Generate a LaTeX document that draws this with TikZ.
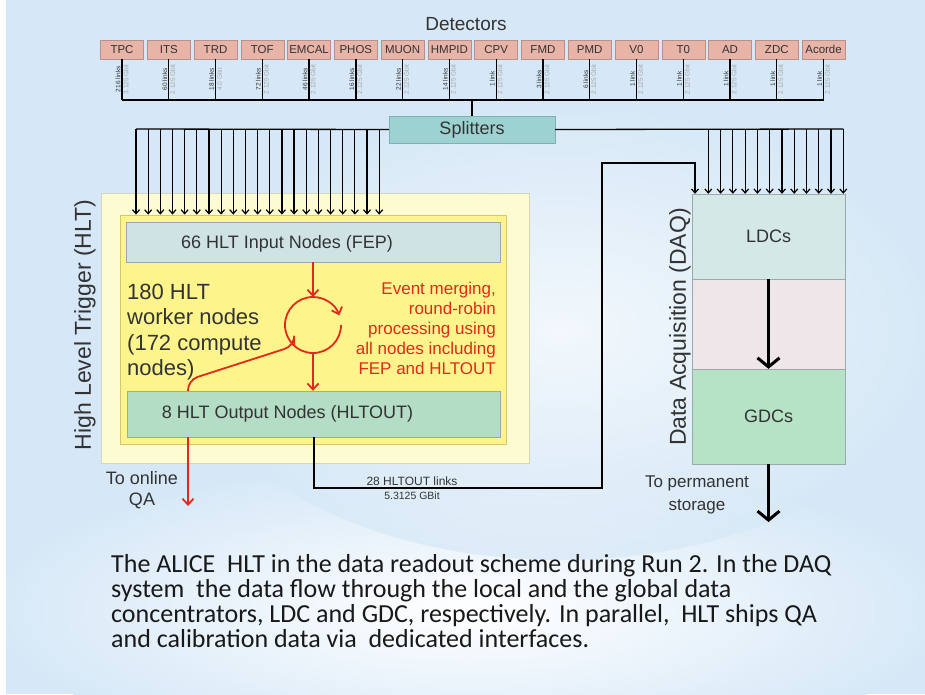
\documentclass[tikz,border=0pt]{standalone}
\usepackage{fontspec}
\setmainfont{Liberation Sans}
\newfontfamily\capfont{Carlito}
\usetikzlibrary{arrows.meta,calc}
\definecolor{bgblue}{HTML}{D6E8F7}
\definecolor{detfill}{HTML}{E8B4A8}
\definecolor{detdraw}{HTML}{B8908A}
\definecolor{splfill}{HTML}{9CD2D1}
\definecolor{spldraw}{HTML}{7FB0B0}
\definecolor{outerfill}{HTML}{FDFBD2}
\definecolor{outerdraw}{HTML}{D8D4B8}
\definecolor{innerfill}{HTML}{FDF58C}
\definecolor{innerdraw}{HTML}{D2C870}
\definecolor{fepfill}{HTML}{CFE3E5}
\definecolor{houtfill}{HTML}{B4DDC6}
\definecolor{ldcfill}{HTML}{D3E8E7}
\definecolor{midfill}{HTML}{EEE6E9}
\definecolor{gdcfill}{HTML}{B6E2C6}
\definecolor{boxdraw}{HTML}{9AAAAA}
\definecolor{redc}{HTML}{E02A1C}
\definecolor{txtc}{HTML}{333333}
\tikzset{
  det/.style={draw=detdraw,fill=detfill,minimum width=43pt,minimum height=19pt,inner sep=0pt,
    font=\fontsize{11.5}{12}\selectfont,text=txtc},
  linklab/.style={rotate=90,inner sep=0pt,font=\fontsize{6.5}{7}\selectfont},
  conn/.style={draw=black,line width=1.3pt},
  arr/.style={draw=black,line width=1.2pt,-{Straight Barb[length=4pt,width=7pt]}},
  redarr/.style={draw=redc,line width=1.8pt,-{Straight Barb[length=6pt,width=11pt]}},
  bigarr/.style={draw=black,line width=3pt,-{Straight Barb[length=9pt,width=22pt]}},
}
\begin{document}
\begin{tikzpicture}[x=1pt,y=-1pt]
\useasboundingbox (0,0) rectangle (925,694);
% background
\fill[bgblue] (0,0) rectangle (925,694);
\shade[inner color=white,outer color=bgblue] (470,610) ellipse[x radius=480,y radius=150];
\shade[inner color=white,outer color=bgblue,opacity=0.7] (560,330) ellipse[x radius=380,y radius=230];
\fill[white] (0,0) rectangle (6,694);

% detectors
\node[font=\fontsize{19}{20}\selectfont,text=txtc] (dettitle) at (466,24) {Detectors};
\coordinate (bus) at (0,100);
\foreach \nm/\la/\lb [count=\i] in {TPC/216 links/3.125 Gbit,ITS/60 links/2.125 Gbit,TRD/18 links/4.0 Gbit,
  TOF/72 links/2.125 Gbit,EMCAL/46 links/2.125 Gbit,PHOS/16 links/2.125 Gbit,MUON/22 links/2.125 Gbit,
  HMPID/14 links/2.125 Gbit,CPV/1 link/2.125 Gbit,FMD/3 links/2.125 Gbit,PMD/6 links/2.125 Gbit,
  V0/1 link/2.125 Gbit,T0/1 link/2.125 Gbit,AD/1 link/2.125 Gbit,ZDC/1 link/2.125 Gbit,Acorde/1 link/2.125 Gbit}{
  \node[det] (d\i) at ({122+46.77*(\i-1)},49.5) {\nm};
  \draw[conn] (d\i.south) -- (d\i.south |- bus);
  \node[linklab,text=black!80] (la\i) at ($(d\i.south)+(-4,20)$) {\la};
  \node[linklab,text=black!35] (lb\i) at ($(d\i.south)+(4,20)$) {\lb};
}
\draw[conn] (d1.south |- bus) -- (d16.south |- bus);

% splitters
\node[draw=spldraw,fill=splfill,minimum width=166pt,minimum height=27pt,inner sep=0pt,
  font=\fontsize{18}{20}\selectfont,text=txtc] (spl) at (472,129.5) {Splitters};
\draw[conn] (spl.north |- bus) -- (spl.north);

% HLT boxes
\node[draw=outerdraw,fill=outerfill,minimum width=428pt,minimum height=270pt,inner sep=0pt] (hlt) at (315,328) {};
\node[draw=innerdraw,fill=innerfill,line width=0.8pt,minimum width=386pt,minimum height=229pt,inner sep=0pt] (inr) at (313,329.5) {};
\node[draw=boxdraw,fill=fepfill,minimum width=374pt,minimum height=40pt,inner sep=0pt] (fep) at (313,242) {};
\node[font=\fontsize{18}{20}\selectfont,text=txtc] (feptxt) at (287,244) {66 HLT Input Nodes (FEP)};
\node[draw=boxdraw,fill=houtfill,minimum width=373pt,minimum height=46pt,inner sep=0pt] (hout) at (313.5,414) {};
\node[font=\fontsize{18}{20}\selectfont,text=txtc] (houttxt) at (287.5,414) {8 HLT Output Nodes (HLTOUT)};
\node[rotate=90,font=\fontsize{23}{25}\selectfont,text=txtc] (hltlab) at (85,325) {High Level Trigger (HLT)};

% left splitter branch
\coordinate (lbr) at (136,129);
\draw[conn] (spl.west) -- (lbr);
\foreach \k in {0,...,20}{
  \coordinate (t) at ($(lbr)+({12.16*\k},0)$);
  \draw[arr] (t) -- (t |- inr.north);
}

% DAQ boxes
\node[draw=boxdraw,fill=ldcfill,minimum width=153pt,minimum height=85pt,inner sep=0pt,
  font=\fontsize{18}{20}\selectfont,text=txtc] (ldc) at (768.5,236.5) {LDCs};
\node[draw=boxdraw,fill=midfill,minimum width=153pt,minimum height=90pt,inner sep=0pt] (mid) at (768.5,324) {};
\node[draw=boxdraw,fill=gdcfill,minimum width=153pt,minimum height=95pt,inner sep=0pt,
  font=\fontsize{18}{20}\selectfont,text=txtc] (gdc) at (768.5,416.5) {GDCs};
\node[rotate=90,font=\fontsize{23}{25}\selectfont,text=txtc] (daqlab) at (680,327) {Data Acquisition (DAQ)};
\draw[bigarr] (ldc.south) -- (gdc.north);
\coordinate (perm) at (768.5,522);
\draw[bigarr] (gdc.south) -- (perm);
\node[font=\fontsize{17}{23}\selectfont,align=center,text=txtc] (permtxt) at (697,494.5) {To permanent\\storage};

% right splitter branch
\coordinate (rbr) at (843.3,129);
\draw[conn] (spl.east) -- (rbr);
\foreach \k in {0,...,11}{
  \coordinate (t) at ($(rbr)+({-12.27*\k},0)$);
  \draw[arr] (t) -- (t |- ldc.north);
}

% HLTOUT to DAQ
\coordinate (hx) at (314,488);
\coordinate (c2) at (602,488);
\coordinate (c3) at (602,163);
\coordinate (c4) at (695,163);
\draw[arr] (hout.south -| hx) -- (hx) -- (c2) -- (c3) -- (c4) -- (c4 |- ldc.north);
\node[font=\fontsize{12}{13}\selectfont,text=txtc] (hlinks) at (412,481) {28 HLTOUT links};
\node[font=\fontsize{10.5}{12}\selectfont,text=txtc] (hgbit) at (412,496) {5.3125 GBit};

% red processing loop
\coordinate (cc) at (313,325);
\coordinate (ctop) at (313,297);
\coordinate (cbot) at (313,353);
\draw[redarr] (fep.south -| ctop) -- (ctop);
\draw[redarr] ($(cc)+(0:28)$) arc[start angle=0,end angle=340,radius=28];
\draw[redarr] (cbot) -- (cbot |- hout.north);
\coordinate (rq) at (188,380);
\draw[draw=redc,line width=1.8pt,rounded corners=10pt] ($(cc)+(132:28)$) -- ($(cc)+(132:28)$ |- rq) -- (rq) -- (rq |- hout.north);
\coordinate (qa) at (188,506);
\draw[redarr] (rq |- hout.south) -- (qa);
\node[font=\fontsize{18}{21}\selectfont,align=center,text=txtc] (qatxt) at (142,490) {To online\\QA};

% texts in HLT
\node[anchor=west,inner sep=0pt,align=left,font=\fontsize{22}{25.5}\selectfont,text=txtc] (worker) at (127,332)
  {180 HLT\\worker nodes\\(172 compute\\nodes)};
\node[anchor=east,inner sep=0pt,align=right,font=\fontsize{17}{20}\selectfont,text=redc] (evtxt) at (496,328)
  {Event merging,\\round-robin\\processing using\\all nodes including\\FEP and HLTOUT};

% caption
\begin{scope}[every node/.style={anchor=base west,inner sep=0pt,font=\capfont\fontsize{26}{25}\selectfont,text=black!90}]
\node (cap1) at (111,572) {The ALICE\ \ HLT in the data readout scheme during Run 2. In the DAQ};
\node (cap2) at (111,597) {system\ \ the data flow through the local and the global data};
\node (cap3) at (111,622) {concentrators, LDC and GDC, respectively. In parallel,\ \ HLT ships QA};
\node (cap4) at (111,647) {and calibration data via\ \ dedicated interfaces.};
\end{scope}
\end{tikzpicture}
\end{document}
